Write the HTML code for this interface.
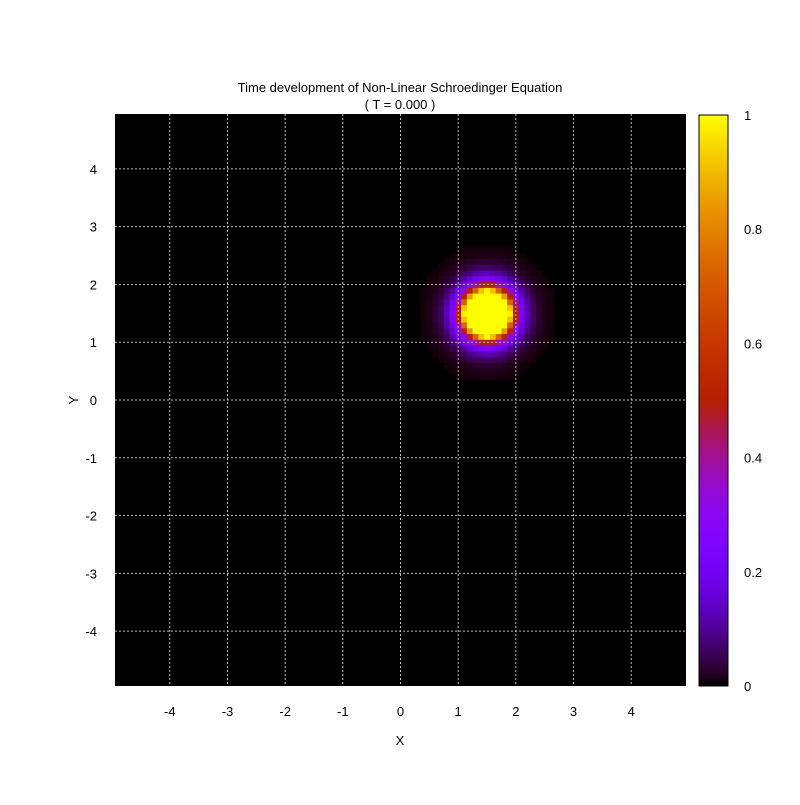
<!DOCTYPE html>
<html><head><meta charset="utf-8"><style>
body{margin:0;background:#fff;}
svg text{font-family:"Liberation Sans",sans-serif;font-size:13px;fill:#000;}
</style></head><body>
<svg id="chart" width="800" height="800">
<rect x="0" y="0" width="800" height="800" fill="#fff"/>
<g id="plot"></g>
<g id="grid"></g>
<g id="ticks"></g>
<g id="cbar"></g>
<text x="400" y="92" text-anchor="middle">Time development of Non-Linear Schroedinger Equation</text>
<text x="400" y="109" text-anchor="middle">( T = 0.000 )</text>
<text x="400" y="745" text-anchor="middle">X</text>
<text x="73" y="405" text-anchor="middle" transform="rotate(-90 73 400)">Y</text>
</svg>
<script>
// data
const xTicks = [-4,-3,-2,-1,0,1,2,3,4];
const yTicks = [-4,-3,-2,-1,0,1,2,3,4];
const cbTicks = [0,0.2,0.4,0.6,0.8,1];
const cbLabels = ["0","0.2","0.4","0.6","0.8","1"];
const blobCenter = [1.5,1.5];
const blobAmplitude = [4.8];
const blobWidth = [0.28];

const X0=115,X1=686,Y0=114,Y1=686,R=4.95;
const sx=v=>X0+(v+R)/(2*R)*(X1-X0);
const sy=v=>Y1-(v+R)/(2*R)*(Y1-Y0);
const NS='http://www.w3.org/2000/svg';
function mk(t,a,p){const e=document.createElementNS(NS,t);for(const k in a)e.setAttribute(k,a[k]);p.appendChild(e);return e;}
function pal(v){v=Math.max(0,Math.min(1,v));const r=Math.sqrt(v),g=v*v*v,b=Math.max(0,Math.sin(2*Math.PI*v));
return `rgb(${Math.round(r*255)},${Math.round(g*255)},${Math.round(b*255)})`;}
const plot=document.getElementById('plot');
const bg=mk('rect',{x:X0,y:Y0,width:X1-X0,height:Y1-Y0,fill:'#000'},plot);


const h=0.1;
for(let i=0;i<99;i++){for(let j=0;j<99;j++){
  const x=-4.9+i*h,y=-4.9+j*h;
  const r=Math.sqrt((x-blobCenter[0])**2+(y-blobCenter[1])**2);
  const ch=Math.cosh(r/blobWidth[0]);
  const v=blobAmplitude[0]/(ch*ch);
  if(v<0.004)continue;
  const c=mk('rect',{x:sx(x-h/2),y:sy(y+h/2),width:sx(x+h/2)-sx(x-h/2)+0.5,height:sy(y-h/2)-sy(y+h/2)+0.5,fill:pal(v)},plot);
  
  
}}
const grid=document.getElementById('grid'),tk=document.getElementById('ticks');
xTicks.forEach(t=>{
  const l=mk('line',{x1:sx(t),x2:sx(t),y1:Y0,y2:Y1,stroke:'#bbb','stroke-dasharray':'2,2','stroke-width':1},grid);
  
  
  const tx=mk('text',{x:sx(t),y:716,'text-anchor':'middle'},tk);tx.textContent=t;
  
  
});
yTicks.forEach(t=>{
  const l=mk('line',{x1:X0,x2:X1,y1:sy(t),y2:sy(t),stroke:'#bbb','stroke-dasharray':'2,2','stroke-width':1},grid);
  
  
  const tx=mk('text',{x:97,y:sy(t)+5,'text-anchor':'end'},tk);tx.textContent=t;
  
  
});
const cb=document.getElementById('cbar');
const CX=699,CW=29,CT=115,CB=686;
const defs=mk('defs',{},cb);const grad=mk('linearGradient',{id:'cg',x1:0,y1:1,x2:0,y2:0},defs);
for(let k=0;k<=50;k++){mk('stop',{offset:k/50,'stop-color':pal(k/50)},grad);}
const cr=mk('rect',{x:CX,y:CT,width:CW,height:CB-CT,fill:'url(#cg)',stroke:'#000','stroke-width':1},cb);


cbTicks.forEach((t,i)=>{
  const y=CB-t*(CB-CT);
  const tx=mk('text',{x:744,y:y+5},cb);tx.textContent=cbLabels[i];
  
  
});
</script>
</body></html>
